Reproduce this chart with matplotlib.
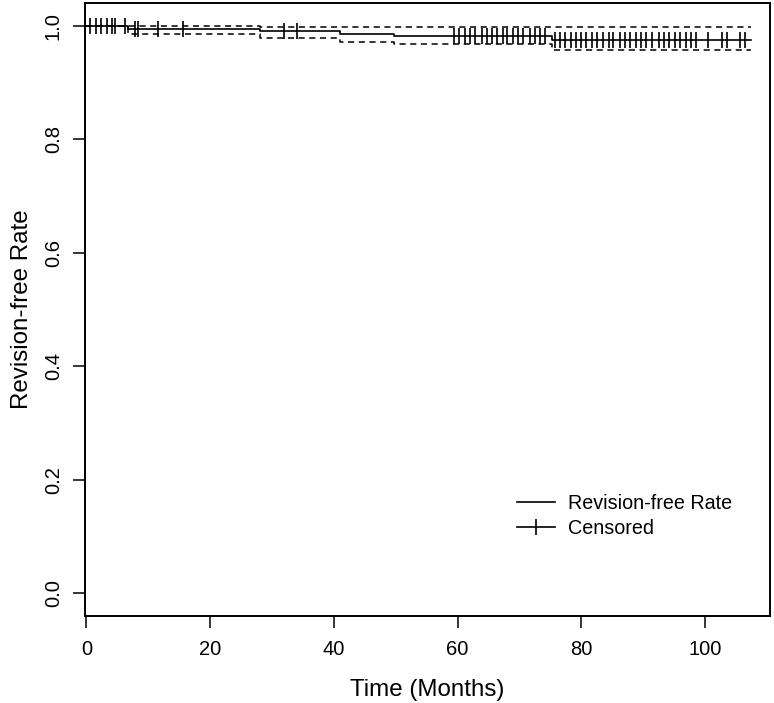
import matplotlib
matplotlib.use("Agg")
import matplotlib.pyplot as plt
from matplotlib.lines import Line2D

plt.rcParams["font.family"] = ["Liberation Sans", "DejaVu Sans"]

# ── Data ──────────────────────────────────────────────────────────────────────
# Kaplan-Meier step function: event times and survival after each step
STEP_TIMES = [0, 6.8, 28.0, 41.0, 49.8, 75.2]
SURV       = [1.000, 0.995, 0.990, 0.986, 0.982, 0.975]
LOWER_CI   = [1.000, 0.986, 0.979, 0.971, 0.968, 0.957]
UPPER_CI   = [1.000, 1.000, 0.998, 0.998, 0.998, 0.998]
END_TIME   = 107.5

CENSOR_TIMES = [
    0.6, 1.5, 2.3, 3.3, 4.2, 4.7, 6.3, 7.9, 8.4, 11.5, 15.7, 32.0, 34.0,
    59.4, 60.3, 61.2, 62.0, 62.8, 63.9, 64.7, 65.5, 66.3, 67.3, 68.0, 68.9,
    69.8, 70.6, 71.7, 72.5, 73.3, 74.1, 75.8, 76.6, 77.4, 78.3, 79.1, 80.0,
    80.8, 81.7, 82.5, 83.5, 84.4, 85.2, 86.2, 87.1, 87.9, 88.9, 89.7, 90.5,
    91.5, 92.5, 93.4, 94.2, 95.1, 95.9, 97.0, 97.8, 98.6, 100.5, 102.7,
    103.5, 105.7, 106.5,
]

X_TICKS = [0, 20, 40, 60, 80, 100]
Y_TICKS = [0.0, 0.2, 0.4, 0.6, 0.8, 1.0]

FS_TICK = 14.5
FS_LABEL = 17.4
FS_LEGEND = 14.2


def step_xy(values):
    xs = STEP_TIMES + [END_TIME]
    ys = values + [values[-1]]
    return xs, ys


def surv_at(t):
    s = SURV[0]
    for tt, v in zip(STEP_TIMES, SURV):
        if t >= tt:
            s = v
    return s


W, H = 774, 703
fig = plt.figure(figsize=(W / 100, H / 100), dpi=100)
ax = fig.add_axes([84.5 / W, (H - 616) / H, (770 - 84.5) / W, (616 - 3) / H])

xs, ys = step_xy(SURV)
ax.step(xs, ys, where="post", color="black", lw=1.2)
for ci in (LOWER_CI, UPPER_CI):
    xs, ys = step_xy(ci)
    ax.step(xs, ys, where="post", color="black", lw=1.1, ls=(0, (4, 3)))

ax.plot(CENSOR_TIMES, [surv_at(t) for t in CENSOR_TIMES], ls="none",
        marker="|", ms=11, mew=1.2, color="black")

ax.set_xlim(-0.3, 110.5)
ax.set_ylim(-0.04, 1.04)
ax.set_xticks(X_TICKS)
ax.set_xticklabels([str(v) for v in X_TICKS], fontsize=FS_TICK)
ax.set_yticks(Y_TICKS)
ax.set_yticklabels([f"{v:.1f}" for v in Y_TICKS], fontsize=FS_TICK,
                   rotation=90, va="center")
ax.tick_params(axis="both", direction="out", length=8.5, width=1.1)
ax.tick_params(axis="x", pad=9)
ax.tick_params(axis="y", pad=7)
for sp in ax.spines.values():
    sp.set_linewidth(1.4)

ax.set_xlabel("Time (Months)", fontsize=FS_LABEL, labelpad=14)
ax.set_ylabel("Revision-free Rate", fontsize=FS_LABEL, labelpad=8)

handles = [
    Line2D([], [], color="black", lw=1.2),
    Line2D([], [], color="black", lw=1.2, marker="|", ms=12, mew=1.2),
]
fig.legend(handles, ["Revision-free Rate", "Censored"], loc="upper left",
           bbox_to_anchor=(517 / W, 1 - 494 / H), frameon=False,
           fontsize=FS_LEGEND, handlelength=1.93, handletextpad=0.66,
           labelspacing=0.3, borderpad=0, borderaxespad=0)

fig.savefig("out.png", dpi=100)
